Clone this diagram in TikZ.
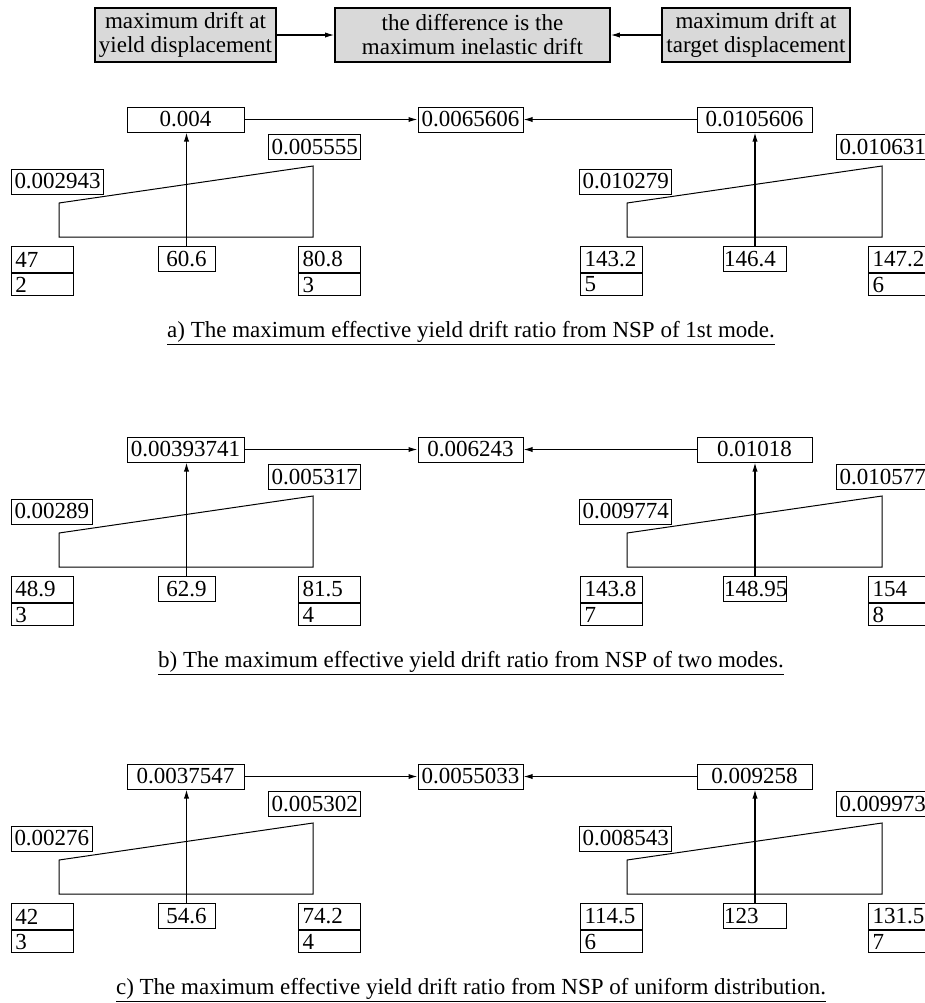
\documentclass[tikz,border=0pt]{standalone}
\usepackage{fontspec}
\setmainfont{Liberation Serif}
\usetikzlibrary{arrows.meta,positioning}
\definecolor{boxgray}{RGB}{217,217,217}

\begin{document}
\begin{tikzpicture}[x=0.5pt,y=-0.5pt,>={Latex[length=4.5pt,width=2.6pt]},
  font=\fontsize{11.5}{12}\selectfont,
  head/.style={draw,line width=0.8pt,fill=boxgray,align=center,minimum height=27pt,inner sep=1pt},
  val/.style={draw,line width=0.5pt,minimum height=12.5pt,inner sep=1.5pt},
  cell/.style={draw,line width=0.5pt,text width=27pt,inner xsep=2pt,inner ysep=0pt,align=left},
  link/.style={->,line width=0.6pt}]
  \useasboundingbox (0,0) rectangle (925,1003);
  \fill[white] (0,0) rectangle (925,1003);
  \clip (0,0) rectangle (925,1003);
  % heading row
  \node[head,minimum width=90.5pt] (ydrift) at (185.5,35) {maximum drift at\\yield displacement};
  \node[head,minimum width=137.5pt] (inel) at (472.5,35) {the difference is the\\maximum inelastic drift};
  \node[head,minimum width=94pt] (tdrift) at (756,35) {maximum drift at\\target displacement};
  \draw[link] (ydrift) -- (inel);
  \draw[link] (tdrift) -- (inel);
  % one block per load pattern
  \foreach \pre/\off/\yl/\df/\tg/\lla/\llb/\rla/\rlb/\lha/\lhb/\lhc/\lsa/\lsc/\rha/\rhb/\rhc/\rsa/\rsc/\capt in {
    a/0/0.004/0.0065606/0.0105606/0.002943/0.005555/0.010279/0.010631/47/60.6/80.8/2/3/143.2/146.4/147.2/5/6/a) The maximum effective yield drift ratio from NSP of 1st mode.,
    b/330/0.00393741/0.006243/0.01018/0.00289/0.005317/0.009774/0.010577/48.9/62.9/81.5/3/4/143.8/148.95/154/7/8/b) The maximum effective yield drift ratio from NSP of two modes.,
    c/657/0.0037547/0.0055033/0.009258/0.00276/0.005302/0.008543/0.009973/42/54.6/74.2/3/4/114.5/123/131.5/6/7/c) The maximum effective yield drift ratio from NSP of uniform distribution.}
  {
  \begin{scope}[shift={(0,\off)}]
    \node[val,minimum width=58.5pt] (\pre-yield) at (185.5,119.5) {\yl};
    \node[val,minimum width=52.5pt] (\pre-diff) at (470.5,119.5) {\df};
    \node[val,minimum width=57.5pt] (\pre-target) at (754.5,119.5) {\tg};
    \draw[link] (\pre-yield) -- (\pre-diff);
    \draw[link] (\pre-target) -- (\pre-diff);
    \node[val,anchor=west] (\pre-ylo) at (11,181.5) {\lla};
    \node[val,anchor=west] (\pre-yhi) at (268,147) {\llb};
    \node[val,anchor=west] (\pre-tlo) at (579,181.5) {\rla};
    \node[val,anchor=west] (\pre-thi) at (836,147) {\rlb};
    \draw[line width=0.5pt] (59,237) -- (59,203) -- (313,166) -- (313,237) -- cycle;
    \draw[line width=0.5pt] (627,237) -- (627,203) -- (882,166) -- (882,237) -- cycle;
    % storeys under the yield range
    \node[cell,anchor=north west,minimum height=13pt] (\pre-ys1) at (11,246) {\lha};
    \node[cell,below=0pt of \pre-ys1,minimum height=11pt] (\pre-yn1) {\lsa};
    \node[val,anchor=north,minimum width=28.5pt] (\pre-ys2) at (186.5,246) {\lhb};
    \node[cell,anchor=north west,minimum height=13pt] (\pre-ys3) at (298,246) {\lhc};
    \node[cell,below=0pt of \pre-ys3,minimum height=11pt] (\pre-yn3) {\lsc};
    % storeys under the target range
    \node[cell,anchor=north west,minimum height=13pt] (\pre-ts1) at (580,246) {\rha};
    \node[cell,below=0pt of \pre-ts1,minimum height=11pt] (\pre-tn1) {\rsa};
    \node[cell,anchor=north west,minimum height=12.5pt,text width=31pt,inner xsep=0.25pt] (\pre-ts2) at (723,246) {\rhb};
    \node[cell,anchor=north west,minimum height=13pt] (\pre-ts3) at (868,246) {\rhc};
    \node[cell,below=0pt of \pre-ts3,minimum height=11pt] (\pre-tn3) {\rsc};
    \draw[link] (\pre-ys2) -- (\pre-ys2 |- \pre-yield.south);
    \draw[link] (\pre-ts2) -- (\pre-ts2 |- \pre-target.south);
    \node[anchor=base] (\pre-cap) at (471,337) {\underline{\capt}};
  \end{scope}
  }
\end{tikzpicture}
\end{document}
